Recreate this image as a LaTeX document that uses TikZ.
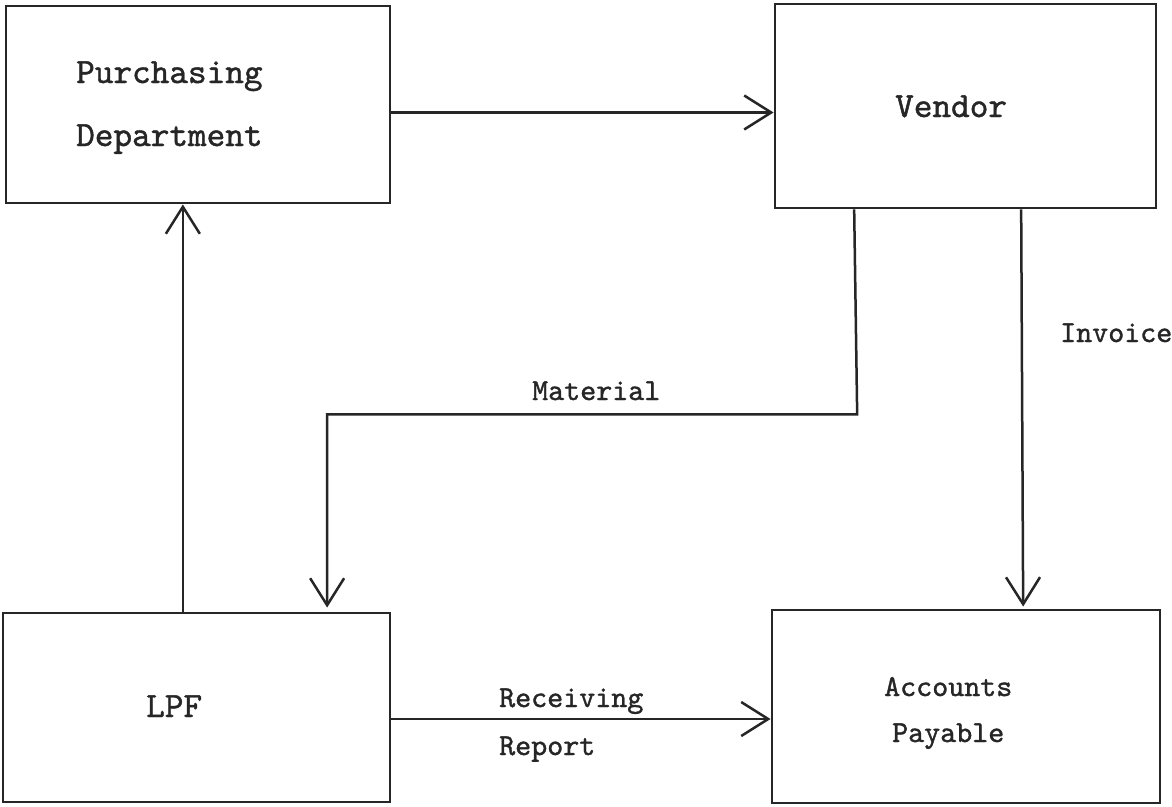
\documentclass[tikz,border=0pt]{standalone}
\usepackage{fontspec}
\newfontfamily\typew{lmmono10-regular.otf}[FakeBold=1.2]
\usetikzlibrary{arrows.meta,calc}
\begin{document}
\begin{tikzpicture}[x=1pt,y=-1pt,
  boxnode/.style={draw=black!85, line width=2.9pt, rectangle, inner sep=0pt},
  flow/.style={draw=black!85, line width=2.5pt,
    -{Straight Barb[length=27pt,width=34pt,line width=2.5pt]}},
  bigtxt/.style={inner sep=0pt, anchor=base west,
    font=\typew\fontsize{35.5}{40}\selectfont, text=black!85},
  smalltxt/.style={inner sep=0pt, anchor=base west,
    font=\typew\fontsize{30.5}{36}\selectfont, text=black!85}]
\useasboundingbox (0,0) rectangle (1172,806);
\fill[white] (0,0) rectangle (1172,806);

% boxes
\node[boxnode, minimum width=384pt, minimum height=197pt] (pd) at (198,104.5) {};
\node[boxnode, minimum width=381pt, minimum height=204pt] (vendor) at (965.5,106) {};
\node[boxnode, minimum width=387pt, minimum height=189pt] (lpf) at (196.5,707.5) {};
\node[boxnode, minimum width=388pt, minimum height=193pt] (ap) at (966,706.5) {};

% box texts
\node[bigtxt] (pdA) at (76,83) {Purchasing};
\node[bigtxt] (pdB) at (76,146) {Department};
\node[bigtxt] (vtxt) at (895,117) {Vendor};
\node[bigtxt] (ltxt) at (146,717) {LPF};
\node[smalltxt] (apA) at (884,696) {Accounts};
\node[smalltxt] (apB) at (892,742) {Payable};

% connector labels
\node[smalltxt] (mat) at (532,400) {Material};
\node[smalltxt] (inv) at (1060,342) {Invoice};
\node[smalltxt] (rcA) at (499,707) {Receiving};
\node[smalltxt] (rcB) at (499,755) {Report};

% connection points
\coordinate (pdOut) at ($(pd.north east)!0.54!(pd.south east)$);
\coordinate (lpfUp) at ($(lpf.north west)!0.465!(lpf.north east)$);
\coordinate (vMat) at ($(vendor.south west)!0.21!(vendor.south east)$);
\coordinate (vInv) at ($(vendor.south west)!0.645!(vendor.south east)$);
\coordinate (matCorner) at ($(vMat)+(3,205)$);
\coordinate (lpfIn) at ($(lpf.north west)!0.835!(lpf.north east)$);
\coordinate (lpfOut) at ($(lpf.north east)!0.56!(lpf.south east)$);

% connectors
\draw[flow] (pdOut) -- (vendor.west |- pdOut);
\draw[flow] (lpfUp) -- (pd.south -| lpfUp);
\draw[flow] (vMat) -- (matCorner) -- (lpfIn |- matCorner) -- ($(lpfIn)+(0,-4)$);
\draw[flow] (vInv) -- ($(ap.north -| vInv)+(2,-2)$);
\draw[flow] (lpfOut) -- (ap.west |- lpfOut);
\end{tikzpicture}
\end{document}
